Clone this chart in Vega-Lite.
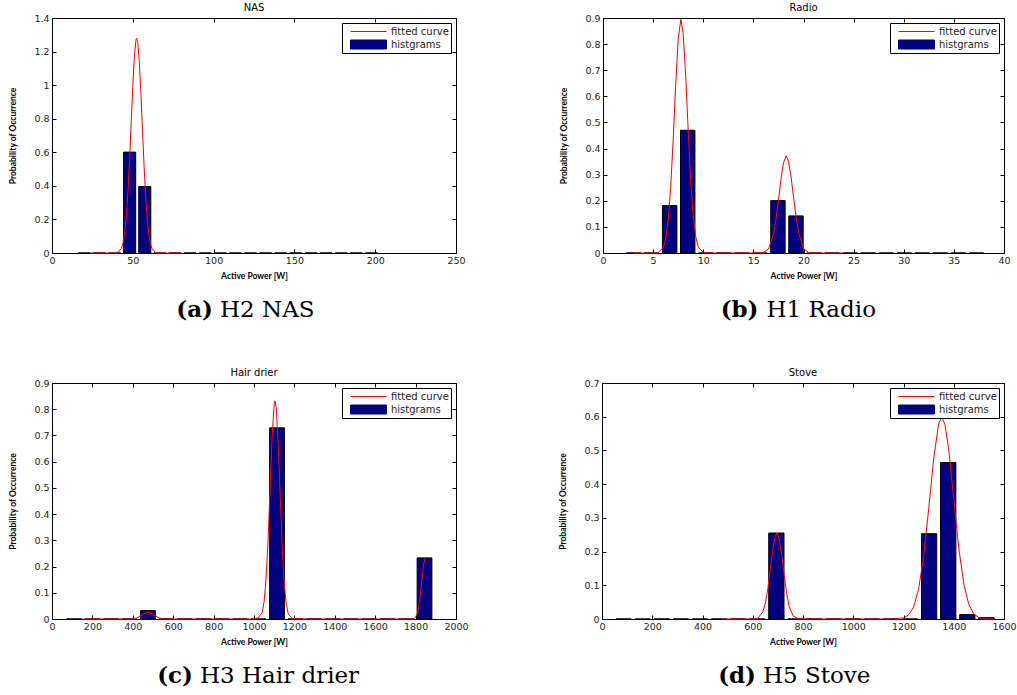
{
  "$schema": "https://vega.github.io/schema/vega-lite/v6.json",
  "background": "white",
  "padding": {"left": 8, "top": 2, "right": 0, "bottom": 0},
  "datasets": {
    "nas_hist": [
      {"lo": 16.26, "hi": 23.74, "p": 0}, {"lo": 25.61, "hi": 33.09, "p": 0}, {"lo": 34.96, "hi": 42.44, "p": 0},
      {"lo": 44.31, "hi": 51.79, "p": 0.601}, {"lo": 53.66, "hi": 61.14, "p": 0.396}, {"lo": 63.01, "hi": 70.49, "p": 0},
      {"lo": 72.36, "hi": 79.84, "p": 0}, {"lo": 81.71, "hi": 89.19, "p": 0}, {"lo": 91.06, "hi": 98.54, "p": 0},
      {"lo": 100.41, "hi": 107.89, "p": 0}, {"lo": 109.76, "hi": 117.24, "p": 0}, {"lo": 119.11, "hi": 126.59, "p": 0},
      {"lo": 128.46, "hi": 135.94, "p": 0}, {"lo": 137.81, "hi": 145.29, "p": 0}, {"lo": 147.16, "hi": 154.64, "p": 0},
      {"lo": 156.51, "hi": 163.99, "p": 0}, {"lo": 165.86, "hi": 173.34, "p": 0}, {"lo": 175.21, "hi": 182.69, "p": 0},
      {"lo": 184.56, "hi": 192.04, "p": 0}, {"lo": 193.91, "hi": 201.39, "p": 0}
    ],
    "nas_fit": [
      {"w": 24, "p": 0}, {"w": 30, "p": 0}, {"w": 38, "p": 0.0002}, {"w": 41, "p": 0.005}, {"w": 43, "p": 0.028},
      {"w": 44, "p": 0.061}, {"w": 45, "p": 0.12}, {"w": 46, "p": 0.218}, {"w": 47, "p": 0.363}, {"w": 48, "p": 0.554},
      {"w": 49, "p": 0.776}, {"w": 50, "p": 0.998}, {"w": 51, "p": 1.176}, {"w": 52, "p": 1.271}, {"w": 52.4, "p": 1.28},
      {"w": 53, "p": 1.26}, {"w": 54, "p": 1.146}, {"w": 55, "p": 0.956}, {"w": 56, "p": 0.731}, {"w": 57, "p": 0.513},
      {"w": 58, "p": 0.33}, {"w": 59, "p": 0.195}, {"w": 60, "p": 0.105}, {"w": 61, "p": 0.052}, {"w": 62, "p": 0.024},
      {"w": 64, "p": 0.004}, {"w": 67, "p": 0.0001}, {"w": 72, "p": 0}, {"w": 80, "p": 0}
    ],
    "radio_hist": [
      {"lo": 2.33, "hi": 3.77, "p": 0}, {"lo": 4.13, "hi": 5.57, "p": 0}, {"lo": 5.93, "hi": 7.37, "p": 0.1815},
      {"lo": 7.73, "hi": 9.17, "p": 0.47}, {"lo": 9.53, "hi": 10.97, "p": 0}, {"lo": 11.33, "hi": 12.77, "p": 0},
      {"lo": 13.13, "hi": 14.57, "p": 0}, {"lo": 14.93, "hi": 16.37, "p": 0}, {"lo": 16.73, "hi": 18.17, "p": 0.2006},
      {"lo": 18.53, "hi": 19.97, "p": 0.142}, {"lo": 20.33, "hi": 21.77, "p": 0}, {"lo": 22.13, "hi": 23.57, "p": 0},
      {"lo": 23.93, "hi": 25.37, "p": 0}, {"lo": 25.73, "hi": 27.17, "p": 0}, {"lo": 27.53, "hi": 28.97, "p": 0},
      {"lo": 29.33, "hi": 30.77, "p": 0}, {"lo": 31.13, "hi": 32.57, "p": 0}, {"lo": 32.93, "hi": 34.37, "p": 0},
      {"lo": 34.73, "hi": 36.17, "p": 0}, {"lo": 36.53, "hi": 37.97, "p": 0}
    ],
    "radio_fit": [
      {"w": 3, "p": 0}, {"w": 4, "p": 0}, {"w": 5, "p": 0.0001}, {"w": 5.5, "p": 0.0017}, {"w": 6, "p": 0.02},
      {"w": 6.25, "p": 0.053}, {"w": 6.5, "p": 0.125}, {"w": 6.75, "p": 0.251}, {"w": 7, "p": 0.434}, {"w": 7.25, "p": 0.643},
      {"w": 7.5, "p": 0.819}, {"w": 7.77, "p": 0.895}, {"w": 8, "p": 0.839}, {"w": 8.25, "p": 0.676}, {"w": 8.5, "p": 0.467},
      {"w": 8.75, "p": 0.277}, {"w": 9, "p": 0.141}, {"w": 9.25, "p": 0.062}, {"w": 9.5, "p": 0.023}, {"w": 10, "p": 0.002},
      {"w": 11, "p": 0}, {"w": 13, "p": 0}, {"w": 15, "p": 0}, {"w": 16, "p": 0.002}, {"w": 16.5, "p": 0.015},
      {"w": 17, "p": 0.072}, {"w": 17.25, "p": 0.129}, {"w": 17.5, "p": 0.203}, {"w": 17.75, "p": 0.282}, {"w": 18, "p": 0.345},
      {"w": 18.27, "p": 0.372}, {"w": 18.5, "p": 0.352}, {"w": 18.75, "p": 0.294}, {"w": 19, "p": 0.216}, {"w": 19.25, "p": 0.14},
      {"w": 19.5, "p": 0.08}, {"w": 20, "p": 0.018}, {"w": 20.5, "p": 0.002}, {"w": 21, "p": 0}, {"w": 22, "p": 0}, {"w": 24, "p": 0}
    ],
    "hair_hist": [
      {"lo": 73.5, "hi": 146.5, "p": 0}, {"lo": 164.8, "hi": 237.8, "p": 0}, {"lo": 256.0, "hi": 329.0, "p": 0},
      {"lo": 347.3, "hi": 420.3, "p": 0}, {"lo": 438.6, "hi": 511.6, "p": 0.032}, {"lo": 529.9, "hi": 602.9, "p": 0},
      {"lo": 621.1, "hi": 694.1, "p": 0}, {"lo": 712.4, "hi": 785.4, "p": 0}, {"lo": 803.7, "hi": 876.7, "p": 0},
      {"lo": 894.9, "hi": 967.9, "p": 0}, {"lo": 986.2, "hi": 1059.2, "p": 0}, {"lo": 1077.5, "hi": 1150.5, "p": 0.729},
      {"lo": 1168.7, "hi": 1241.7, "p": 0}, {"lo": 1260.0, "hi": 1333.0, "p": 0}, {"lo": 1351.3, "hi": 1424.3, "p": 0},
      {"lo": 1442.6, "hi": 1515.6, "p": 0}, {"lo": 1533.8, "hi": 1606.8, "p": 0}, {"lo": 1625.1, "hi": 1698.1, "p": 0},
      {"lo": 1716.4, "hi": 1789.4, "p": 0}, {"lo": 1807.6, "hi": 1880.6, "p": 0.233}
    ],
    "hair_fit": [
      {"w": 150, "p": 0}, {"w": 250, "p": 0}, {"w": 350, "p": 0}, {"w": 400, "p": 0.0007}, {"w": 420, "p": 0.004},
      {"w": 440, "p": 0.012}, {"w": 460, "p": 0.0225}, {"w": 475, "p": 0.026}, {"w": 490, "p": 0.0225}, {"w": 510, "p": 0.012},
      {"w": 530, "p": 0.004}, {"w": 550, "p": 0.0007}, {"w": 600, "p": 0}, {"w": 800, "p": 0}, {"w": 1000, "p": 0},
      {"w": 1020, "p": 0.004}, {"w": 1040, "p": 0.024}, {"w": 1050, "p": 0.066}, {"w": 1060, "p": 0.155}, {"w": 1070, "p": 0.305},
      {"w": 1080, "p": 0.505}, {"w": 1090, "p": 0.702}, {"w": 1100, "p": 0.82}, {"w": 1104, "p": 0.832}, {"w": 1110, "p": 0.806},
      {"w": 1120, "p": 0.666}, {"w": 1130, "p": 0.463}, {"w": 1140, "p": 0.27}, {"w": 1150, "p": 0.133}, {"w": 1160, "p": 0.055},
      {"w": 1170, "p": 0.019}, {"w": 1190, "p": 0.001}, {"w": 1300, "p": 0}, {"w": 1500, "p": 0}, {"w": 1700, "p": 0},
      {"w": 1780, "p": 0.0002}, {"w": 1790, "p": 0.0013}, {"w": 1800, "p": 0.0067}, {"w": 1810, "p": 0.025}, {"w": 1820, "p": 0.069},
      {"w": 1830, "p": 0.141}, {"w": 1840, "p": 0.211}, {"w": 1848, "p": 0.233}
    ],
    "stove_hist": [
      {"lo": 55.6, "hi": 116.4, "p": 0}, {"lo": 131.6, "hi": 192.4, "p": 0}, {"lo": 207.6, "hi": 268.4, "p": 0},
      {"lo": 283.6, "hi": 344.4, "p": 0}, {"lo": 359.6, "hi": 420.4, "p": 0}, {"lo": 435.6, "hi": 496.4, "p": 0},
      {"lo": 511.6, "hi": 572.4, "p": 0}, {"lo": 587.6, "hi": 648.4, "p": 0}, {"lo": 663.6, "hi": 724.4, "p": 0.255},
      {"lo": 739.6, "hi": 800.4, "p": 0}, {"lo": 815.6, "hi": 876.4, "p": 0}, {"lo": 891.6, "hi": 952.4, "p": 0},
      {"lo": 967.6, "hi": 1028.4, "p": 0}, {"lo": 1043.6, "hi": 1104.4, "p": 0}, {"lo": 1119.6, "hi": 1180.4, "p": 0},
      {"lo": 1195.6, "hi": 1256.4, "p": 0}, {"lo": 1271.6, "hi": 1332.4, "p": 0.253}, {"lo": 1347.6, "hi": 1408.4, "p": 0.464},
      {"lo": 1423.6, "hi": 1484.4, "p": 0.013}, {"lo": 1499.6, "hi": 1560.4, "p": 0.004}
    ],
    "stove_fit": [
      {"w": 480, "p": 0}, {"w": 560, "p": 0}, {"w": 600, "p": 0.0003}, {"w": 620, "p": 0.0025}, {"w": 640, "p": 0.021},
      {"w": 650, "p": 0.047}, {"w": 660, "p": 0.09}, {"w": 670, "p": 0.149}, {"w": 680, "p": 0.208}, {"w": 690, "p": 0.248},
      {"w": 696, "p": 0.255}, {"w": 705, "p": 0.239}, {"w": 715, "p": 0.191}, {"w": 725, "p": 0.13}, {"w": 735, "p": 0.076},
      {"w": 745, "p": 0.037}, {"w": 760, "p": 0.01}, {"w": 780, "p": 0.001}, {"w": 850, "p": 0}, {"w": 1000, "p": 0},
      {"w": 1150, "p": 0}, {"w": 1200, "p": 0.003}, {"w": 1220, "p": 0.012}, {"w": 1240, "p": 0.035}, {"w": 1260, "p": 0.088},
      {"w": 1280, "p": 0.185}, {"w": 1300, "p": 0.325}, {"w": 1320, "p": 0.475}, {"w": 1340, "p": 0.58}, {"w": 1352, "p": 0.599},
      {"w": 1365, "p": 0.577}, {"w": 1380, "p": 0.502}, {"w": 1400, "p": 0.356}, {"w": 1420, "p": 0.21}, {"w": 1440, "p": 0.104},
      {"w": 1460, "p": 0.043}, {"w": 1480, "p": 0.015}, {"w": 1500, "p": 0.004}, {"w": 1530, "p": 0.0005}, {"w": 1560, "p": 0}
    ],
    "cap_a": [{"tag": "(a)", "name": "H2 NAS"}],
    "cap_b": [{"tag": "(b)", "name": "H1 Radio"}],
    "cap_c": [{"tag": "(c)", "name": "H3 Hair drier"}],
    "cap_d": [{"tag": "(d)", "name": "H5 Stove"}]
  },
  "spacing": 45,
  "resolve": {"scale": {"color": "independent"}, "legend": {"color": "independent"}},
  "vconcat": [
    {
      "spacing": 93,
      "resolve": {"scale": {"color": "independent"}, "legend": {"color": "independent"}},
      "hconcat": [
        {
          "spacing": 17,
          "resolve": {"scale": {"color": "independent"}, "legend": {"color": "independent"}},
          "vconcat": [
            {
              "width": 404, "height": 235,
              "title": {"text": "NAS", "offset": 0},
              "resolve": {"axis": {"x": "independent", "y": "independent"}},
              "layer": [
                {
                  "data": {"name": "nas_hist"},
                  "mark": {"type": "bar", "stroke": "black", "strokeWidth": 1},
                  "encoding": {
                    "x": {"field": "lo", "type": "quantitative", "scale": {"domain": [0, 250], "nice": false}, "axis": {"values": [0, 50, 100, 150, 200, 250], "format": "d", "title": "Active Power [W]"}},
                    "x2": {"field": "hi"},
                    "y": {"field": "p", "type": "quantitative", "scale": {"domain": [0, 1.4], "nice": false}, "axis": {"values": [0, 0.2, 0.4, 0.6, 0.8, 1, 1.2, 1.4], "format": "~g", "title": "Probability of Occurrence"}},
                    "y2": {"datum": 0},
                    "color": {"datum": "histgrams", "type": "nominal", "scale": {"domain": ["fitted curve", "histgrams"], "range": ["#ff0000", "#000080"]},
                      "legend": {"encode": {"symbols": {"update": {
                        "shape": {"signal": "datum.value === 'fitted curve' ? 'M-3,0L3,0' : 'M-3,-0.75L3,-0.75L3,0.75L-3,0.75Z'"},
                        "fill": {"signal": "datum.value === 'fitted curve' ? 'transparent' : '#000080'"},
                        "stroke": {"signal": "datum.value === 'fitted curve' ? '#ff0000' : '#000000'"},
                        "strokeWidth": {"value": 1}, "opacity": {"value": 1}}}}}}
                  }
                },
                {
                  "data": {"name": "nas_fit"},
                  "mark": {"type": "line", "strokeWidth": 1},
                  "encoding": {
                    "x": {"field": "w", "type": "quantitative", "scale": {"domain": [0, 250], "nice": false}, "axis": {"orient": "top", "values": [0, 50, 100, 150, 200, 250], "labels": false, "title": null}},
                    "y": {"field": "p", "type": "quantitative", "scale": {"domain": [0, 1.4], "nice": false}, "axis": {"orient": "right", "values": [0, 0.2, 0.4, 0.6, 0.8, 1, 1.2, 1.4], "labels": false, "title": null}},
                    "color": {"datum": "fitted curve", "type": "nominal",
                      "legend": {"encode": {"symbols": {"update": {
                        "shape": {"signal": "datum.value === 'fitted curve' ? 'M-3,0L3,0' : 'M-3,-0.75L3,-0.75L3,0.75L-3,0.75Z'"},
                        "fill": {"signal": "datum.value === 'fitted curve' ? 'transparent' : '#000080'"},
                        "stroke": {"signal": "datum.value === 'fitted curve' ? '#ff0000' : '#000000'"},
                        "strokeWidth": {"value": 1}, "opacity": {"value": 1}}}}}}
                  }
                }
              ]
            },
            {
              "width": 404, "height": 24, "view": {"stroke": null},
              "data": {"name": "cap_a"},
              "layer": [
                {"mark": {"type": "text", "align": "right", "baseline": "middle", "font": "DejaVu Serif", "fontSize": 23, "fontWeight": "bold", "color": "black", "dx": -41},
                 "encoding": {"text": {"field": "tag"}, "x": {"datum": 0.5, "type": "quantitative", "scale": {"domain": [0, 1]}, "axis": null}, "y": {"datum": 0.5, "type": "quantitative", "scale": {"domain": [0, 1]}, "axis": null}}},
                {"mark": {"type": "text", "align": "left", "baseline": "middle", "font": "DejaVu Serif", "fontSize": 23, "color": "black", "dx": -34},
                 "encoding": {"text": {"field": "name"}, "x": {"datum": 0.5, "type": "quantitative", "scale": {"domain": [0, 1]}, "axis": null}, "y": {"datum": 0.5, "type": "quantitative", "scale": {"domain": [0, 1]}, "axis": null}}}
              ]
            }
          ]
        },
        {
          "spacing": 17,
          "resolve": {"scale": {"color": "independent"}, "legend": {"color": "independent"}},
          "vconcat": [
            {
              "width": 401, "height": 235,
              "title": {"text": "Radio", "offset": 0},
              "resolve": {"axis": {"x": "independent", "y": "independent"}},
              "layer": [
                {
                  "data": {"name": "radio_hist"},
                  "mark": {"type": "bar", "stroke": "black", "strokeWidth": 1},
                  "encoding": {
                    "x": {"field": "lo", "type": "quantitative", "scale": {"domain": [0, 40], "nice": false}, "axis": {"values": [0, 5, 10, 15, 20, 25, 30, 35, 40], "format": "d", "title": "Active Power [W]"}},
                    "x2": {"field": "hi"},
                    "y": {"field": "p", "type": "quantitative", "scale": {"domain": [0, 0.9], "nice": false}, "axis": {"values": [0, 0.1, 0.2, 0.3, 0.4, 0.5, 0.6, 0.7, 0.8, 0.9], "format": "~g", "title": "Probability of Occurrence"}},
                    "y2": {"datum": 0},
                    "color": {"datum": "histgrams", "type": "nominal", "scale": {"domain": ["fitted curve", "histgrams"], "range": ["#ff0000", "#000080"]},
                      "legend": {"encode": {"symbols": {"update": {
                        "shape": {"signal": "datum.value === 'fitted curve' ? 'M-3,0L3,0' : 'M-3,-0.75L3,-0.75L3,0.75L-3,0.75Z'"},
                        "fill": {"signal": "datum.value === 'fitted curve' ? 'transparent' : '#000080'"},
                        "stroke": {"signal": "datum.value === 'fitted curve' ? '#ff0000' : '#000000'"},
                        "strokeWidth": {"value": 1}, "opacity": {"value": 1}}}}}}
                  }
                },
                {
                  "data": {"name": "radio_fit"},
                  "mark": {"type": "line", "strokeWidth": 1},
                  "encoding": {
                    "x": {"field": "w", "type": "quantitative", "scale": {"domain": [0, 40], "nice": false}, "axis": {"orient": "top", "values": [0, 5, 10, 15, 20, 25, 30, 35, 40], "labels": false, "title": null}},
                    "y": {"field": "p", "type": "quantitative", "scale": {"domain": [0, 0.9], "nice": false}, "axis": {"orient": "right", "values": [0, 0.1, 0.2, 0.3, 0.4, 0.5, 0.6, 0.7, 0.8, 0.9], "labels": false, "title": null}},
                    "color": {"datum": "fitted curve", "type": "nominal",
                      "legend": {"encode": {"symbols": {"update": {
                        "shape": {"signal": "datum.value === 'fitted curve' ? 'M-3,0L3,0' : 'M-3,-0.75L3,-0.75L3,0.75L-3,0.75Z'"},
                        "fill": {"signal": "datum.value === 'fitted curve' ? 'transparent' : '#000080'"},
                        "stroke": {"signal": "datum.value === 'fitted curve' ? '#ff0000' : '#000000'"},
                        "strokeWidth": {"value": 1}, "opacity": {"value": 1}}}}}}
                  }
                }
              ]
            },
            {
              "width": 401, "height": 24, "view": {"stroke": null},
              "data": {"name": "cap_b"},
              "layer": [
                {"mark": {"type": "text", "align": "right", "baseline": "middle", "font": "DejaVu Serif", "fontSize": 23, "fontWeight": "bold", "color": "black", "dx": -45},
                 "encoding": {"text": {"field": "tag"}, "x": {"datum": 0.5, "type": "quantitative", "scale": {"domain": [0, 1]}, "axis": null}, "y": {"datum": 0.5, "type": "quantitative", "scale": {"domain": [0, 1]}, "axis": null}}},
                {"mark": {"type": "text", "align": "left", "baseline": "middle", "font": "DejaVu Serif", "fontSize": 23, "color": "black", "dx": -37},
                 "encoding": {"text": {"field": "name"}, "x": {"datum": 0.5, "type": "quantitative", "scale": {"domain": [0, 1]}, "axis": null}, "y": {"datum": 0.5, "type": "quantitative", "scale": {"domain": [0, 1]}, "axis": null}}}
              ]
            }
          ]
        }
      ]
    },
    {
      "spacing": 89,
      "resolve": {"scale": {"color": "independent"}, "legend": {"color": "independent"}},
      "hconcat": [
        {
          "spacing": 17,
          "resolve": {"scale": {"color": "independent"}, "legend": {"color": "independent"}},
          "vconcat": [
            {
              "width": 404, "height": 236,
              "title": {"text": "Hair drier", "offset": 0},
              "resolve": {"axis": {"x": "independent", "y": "independent"}},
              "layer": [
                {
                  "data": {"name": "hair_hist"},
                  "mark": {"type": "bar", "stroke": "black", "strokeWidth": 1},
                  "encoding": {
                    "x": {"field": "lo", "type": "quantitative", "scale": {"domain": [0, 2000], "nice": false}, "axis": {"values": [0, 200, 400, 600, 800, 1000, 1200, 1400, 1600, 1800, 2000], "format": "d", "title": "Active Power [W]"}},
                    "x2": {"field": "hi"},
                    "y": {"field": "p", "type": "quantitative", "scale": {"domain": [0, 0.9], "nice": false}, "axis": {"values": [0, 0.1, 0.2, 0.3, 0.4, 0.5, 0.6, 0.7, 0.8, 0.9], "format": "~g", "title": "Probability of Occurrence"}},
                    "y2": {"datum": 0},
                    "color": {"datum": "histgrams", "type": "nominal", "scale": {"domain": ["fitted curve", "histgrams"], "range": ["#ff0000", "#000080"]},
                      "legend": {"encode": {"symbols": {"update": {
                        "shape": {"signal": "datum.value === 'fitted curve' ? 'M-3,0L3,0' : 'M-3,-0.75L3,-0.75L3,0.75L-3,0.75Z'"},
                        "fill": {"signal": "datum.value === 'fitted curve' ? 'transparent' : '#000080'"},
                        "stroke": {"signal": "datum.value === 'fitted curve' ? '#ff0000' : '#000000'"},
                        "strokeWidth": {"value": 1}, "opacity": {"value": 1}}}}}}
                  }
                },
                {
                  "data": {"name": "hair_fit"},
                  "mark": {"type": "line", "strokeWidth": 1},
                  "encoding": {
                    "x": {"field": "w", "type": "quantitative", "scale": {"domain": [0, 2000], "nice": false}, "axis": {"orient": "top", "values": [0, 200, 400, 600, 800, 1000, 1200, 1400, 1600, 1800, 2000], "labels": false, "title": null}},
                    "y": {"field": "p", "type": "quantitative", "scale": {"domain": [0, 0.9], "nice": false}, "axis": {"orient": "right", "values": [0, 0.1, 0.2, 0.3, 0.4, 0.5, 0.6, 0.7, 0.8, 0.9], "labels": false, "title": null}},
                    "color": {"datum": "fitted curve", "type": "nominal",
                      "legend": {"encode": {"symbols": {"update": {
                        "shape": {"signal": "datum.value === 'fitted curve' ? 'M-3,0L3,0' : 'M-3,-0.75L3,-0.75L3,0.75L-3,0.75Z'"},
                        "fill": {"signal": "datum.value === 'fitted curve' ? 'transparent' : '#000080'"},
                        "stroke": {"signal": "datum.value === 'fitted curve' ? '#ff0000' : '#000000'"},
                        "strokeWidth": {"value": 1}, "opacity": {"value": 1}}}}}}
                  }
                }
              ]
            },
            {
              "width": 404, "height": 24, "view": {"stroke": null},
              "data": {"name": "cap_c"},
              "layer": [
                {"mark": {"type": "text", "align": "right", "baseline": "middle", "font": "DejaVu Serif", "fontSize": 23, "fontWeight": "bold", "color": "black", "dx": -61},
                 "encoding": {"text": {"field": "tag"}, "x": {"datum": 0.5, "type": "quantitative", "scale": {"domain": [0, 1]}, "axis": null}, "y": {"datum": 0.5, "type": "quantitative", "scale": {"domain": [0, 1]}, "axis": null}}},
                {"mark": {"type": "text", "align": "left", "baseline": "middle", "font": "DejaVu Serif", "fontSize": 23, "color": "black", "dx": -54},
                 "encoding": {"text": {"field": "name"}, "x": {"datum": 0.5, "type": "quantitative", "scale": {"domain": [0, 1]}, "axis": null}, "y": {"datum": 0.5, "type": "quantitative", "scale": {"domain": [0, 1]}, "axis": null}}}
              ]
            }
          ]
        },
        {
          "spacing": 17,
          "resolve": {"scale": {"color": "independent"}, "legend": {"color": "independent"}},
          "vconcat": [
            {
              "width": 402, "height": 236,
              "title": {"text": "Stove", "offset": 0},
              "resolve": {"axis": {"x": "independent", "y": "independent"}},
              "layer": [
                {
                  "data": {"name": "stove_hist"},
                  "mark": {"type": "bar", "stroke": "black", "strokeWidth": 1},
                  "encoding": {
                    "x": {"field": "lo", "type": "quantitative", "scale": {"domain": [0, 1600], "nice": false}, "axis": {"values": [0, 200, 400, 600, 800, 1000, 1200, 1400, 1600], "format": "d", "title": "Active Power [W]"}},
                    "x2": {"field": "hi"},
                    "y": {"field": "p", "type": "quantitative", "scale": {"domain": [0, 0.7], "nice": false}, "axis": {"values": [0, 0.1, 0.2, 0.3, 0.4, 0.5, 0.6, 0.7], "format": "~g", "title": "Probability of Occurrence"}},
                    "y2": {"datum": 0},
                    "color": {"datum": "histgrams", "type": "nominal", "scale": {"domain": ["fitted curve", "histgrams"], "range": ["#ff0000", "#000080"]},
                      "legend": {"encode": {"symbols": {"update": {
                        "shape": {"signal": "datum.value === 'fitted curve' ? 'M-3,0L3,0' : 'M-3,-0.75L3,-0.75L3,0.75L-3,0.75Z'"},
                        "fill": {"signal": "datum.value === 'fitted curve' ? 'transparent' : '#000080'"},
                        "stroke": {"signal": "datum.value === 'fitted curve' ? '#ff0000' : '#000000'"},
                        "strokeWidth": {"value": 1}, "opacity": {"value": 1}}}}}}
                  }
                },
                {
                  "data": {"name": "stove_fit"},
                  "mark": {"type": "line", "strokeWidth": 1},
                  "encoding": {
                    "x": {"field": "w", "type": "quantitative", "scale": {"domain": [0, 1600], "nice": false}, "axis": {"orient": "top", "values": [0, 200, 400, 600, 800, 1000, 1200, 1400, 1600], "labels": false, "title": null}},
                    "y": {"field": "p", "type": "quantitative", "scale": {"domain": [0, 0.7], "nice": false}, "axis": {"orient": "right", "values": [0, 0.1, 0.2, 0.3, 0.4, 0.5, 0.6, 0.7], "labels": false, "title": null}},
                    "color": {"datum": "fitted curve", "type": "nominal",
                      "legend": {"encode": {"symbols": {"update": {
                        "shape": {"signal": "datum.value === 'fitted curve' ? 'M-3,0L3,0' : 'M-3,-0.75L3,-0.75L3,0.75L-3,0.75Z'"},
                        "fill": {"signal": "datum.value === 'fitted curve' ? 'transparent' : '#000080'"},
                        "stroke": {"signal": "datum.value === 'fitted curve' ? '#ff0000' : '#000000'"},
                        "strokeWidth": {"value": 1}, "opacity": {"value": 1}}}}}}
                  }
                }
              ]
            },
            {
              "width": 402, "height": 24, "view": {"stroke": null},
              "data": {"name": "cap_d"},
              "layer": [
                {"mark": {"type": "text", "align": "right", "baseline": "middle", "font": "DejaVu Serif", "fontSize": 23, "fontWeight": "bold", "color": "black", "dx": -47},
                 "encoding": {"text": {"field": "tag"}, "x": {"datum": 0.5, "type": "quantitative", "scale": {"domain": [0, 1]}, "axis": null}, "y": {"datum": 0.5, "type": "quantitative", "scale": {"domain": [0, 1]}, "axis": null}}},
                {"mark": {"type": "text", "align": "left", "baseline": "middle", "font": "DejaVu Serif", "fontSize": 23, "color": "black", "dx": -40},
                 "encoding": {"text": {"field": "name"}, "x": {"datum": 0.5, "type": "quantitative", "scale": {"domain": [0, 1]}, "axis": null}, "y": {"datum": 0.5, "type": "quantitative", "scale": {"domain": [0, 1]}, "axis": null}}}
              ]
            }
          ]
        }
      ]
    }
  ],
  "config": {
    "view": {"stroke": "black", "strokeWidth": 1},
    "font": "DejaVu Sans",
    "title": {"font": "DejaVu Sans", "fontSize": 10, "fontWeight": "normal", "color": "black", "anchor": "middle"},
    "axis": {
      "domain": false, "grid": false, "ticks": true, "tickSize": -4, "tickColor": "black", "tickWidth": 1,
      "labelFont": "DejaVu Sans", "labelFontSize": 9.5, "labelColor": "#222", "labelFlush": false, "labelOverlap": false,
      "titleFont": "Lato", "titleFontSize": 8.5, "titleFontWeight": "bold", "titleColor": "black"
    },
    "axisX": {"labelPadding": 6, "titlePadding": 7},
    "axisY": {"labelPadding": 7, "titlePadding": 16},
    "legend": {
      "orient": "top-right", "offset": 5, "title": null,
      "strokeColor": "black", "strokeWidth": 1, "fillColor": "white", "padding": 2, "cornerRadius": 0,
      "labelFont": "DejaVu Sans", "labelFontSize": 10, "labelColor": "#222",
      "symbolSize": 144, "symbolOffset": 18, "labelOffset": 16, "rowPadding": 1
    }
  }
}
